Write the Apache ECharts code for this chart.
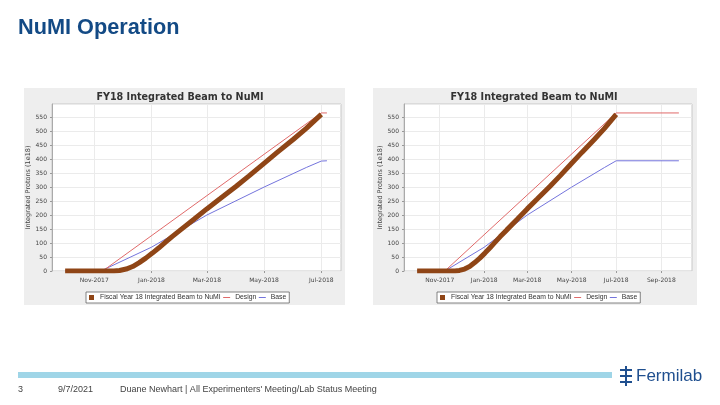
<!DOCTYPE html>
<html><head><meta charset="utf-8">
<script src="https://cdn.jsdelivr.net/npm/echarts@6/dist/echarts.min.js"></script>
<style>html,body{margin:0;padding:0;background:#fff}#c{width:720px;height:405px}</style>
</head><body><div id="c"></div><script>
const slideTitle = 'NuMI Operation';
const chartTitle = 'FY18 Integrated Beam to NuMI';
const yAxisName = 'Integrated Protons (1e18)';
const seriesNames = ['Fiscal Year 18 Integrated Beam to NuMI', 'Design', 'Base'];
const footerPage = '3';
const footerDate = '9/7/2021';
const footerText = "Duane Newhart | All Experimenters' Meeting/Lab Status Meeting";
const logoText = 'Fermilab';

const leftTicks = ['2017-11-01', '2018-01-01', '2018-03-01', '2018-05-01', '2018-07-01'];
const rightTicks = ['2017-11-01', '2018-01-01', '2018-03-01', '2018-05-01', '2018-07-01', '2018-09-01'];
const leftRange = ['2017-09-17', '2018-07-22'];
const rightRange = ['2017-09-13', '2018-10-13'];

const leftBeam = [
  ['2017-10-01', 0], ['2017-11-22', 0], ['2017-11-28', 2], ['2017-12-05', 7], ['2017-12-12', 16],
  ['2017-12-19', 30], ['2017-12-26', 46], ['2018-01-02', 64], ['2018-01-09', 83], ['2018-01-16', 103],
  ['2018-01-23', 123], ['2018-02-01', 147], ['2018-02-15', 184], ['2018-03-01', 222], ['2018-03-15', 258],
  ['2018-04-01', 302], ['2018-04-15', 340], ['2018-05-01', 385], ['2018-05-15', 424], ['2018-06-01', 470],
  ['2018-06-15', 510], ['2018-07-01', 560]
];
const leftDesign = [['2017-10-01', 0], ['2017-11-10', 0], ['2018-07-01', 565], ['2018-07-07', 565]];
const leftBase = [
  ['2017-10-01', 0], ['2017-11-08', 0], ['2018-01-01', 85], ['2018-03-01', 200], ['2018-05-01', 300],
  ['2018-06-15', 370], ['2018-07-01', 393], ['2018-07-07', 394]
];

const rightBeam = [
  ['2017-10-01', 0], ['2017-11-22', 0], ['2017-11-28', 2], ['2017-12-05', 7], ['2017-12-12', 16],
  ['2017-12-19', 30], ['2017-12-26', 46], ['2018-01-02', 64], ['2018-01-09', 83], ['2018-01-16', 103],
  ['2018-01-23', 123], ['2018-02-01', 147], ['2018-02-15', 184], ['2018-03-01', 222], ['2018-03-15', 258],
  ['2018-04-01', 302], ['2018-04-15', 340], ['2018-05-01', 385], ['2018-05-15', 424], ['2018-06-01', 470],
  ['2018-06-15', 510], ['2018-07-01', 560]
];
const rightDesign = [['2017-10-01', 0], ['2017-11-08', 0], ['2018-07-01', 565], ['2018-09-25', 565]];
const rightBase = [
  ['2017-10-01', 0], ['2017-11-08', 0], ['2018-01-01', 85], ['2018-03-01', 200], ['2018-05-01', 300],
  ['2018-06-15', 370], ['2018-07-01', 394], ['2018-09-25', 394]
];

const MONTHS = ['Jan','Feb','Mar','Apr','May','Jun','Jul','Aug','Sep','Oct','Nov','Dec'];
function t(s) { const p = s.split('-'); return Date.UTC(+p[0], +p[1] - 1, +p[2]); }
function fmt(v) { const d = new Date(v); return MONTHS[d.getUTCMonth()] + '-' + d.getUTCFullYear(); }
function pts(a) { return a.map(function (r) { return [t(r[0]), r[1]]; }); }

const C_BEAM = '#8f4516', C_DESIGN = '#e06a6a', C_BASE = '#7474dc';
const SMALL = 'DejaVu Sans';

function xAxis(gi, ticks, range) {
  const tv = ticks.map(t);
  return {
    type: 'value', gridIndex: gi, min: t(range[0]), max: t(range[1]),
    axisLine: { show: false },
    axisTick: { show: true, customValues: tv, length: 2, lineStyle: { color: '#999' } },
    axisLabel: { customValues: tv, formatter: fmt, fontSize: 6, fontFamily: SMALL, color: '#444', margin: 6, hideOverlap: false },
    splitLine: { show: true, lineStyle: { color: '#ebebeb', width: 1 } }
  };
}
function yAxis(gi) {
  return {
    type: 'value', gridIndex: gi, min: 0, max: 597, interval: 50,
    axisLine: { show: true, lineStyle: { color: '#aaa' } },
    axisTick: { show: true, length: 2, lineStyle: { color: '#999' } },
    axisLabel: { showMaxLabel: false, fontSize: 6, fontFamily: SMALL, color: '#444', margin: 5 },
    splitLine: { show: true, lineStyle: { color: '#ebebeb', width: 1 } },
    name: yAxisName, nameLocation: 'middle', nameGap: 20,
    nameTextStyle: { fontSize: 6.5, fontFamily: SMALL, color: '#444' }
  };
}
function lineSeries(name, data, gi, color, width, z) {
  return {
    type: 'line', name: name, xAxisIndex: gi, yAxisIndex: gi, data: pts(data),
    showSymbol: false, symbol: 'none', color: color, z: z,
    lineStyle: { color: color, width: width }, animation: false
  };
}
function legend(left) {
  return {
    left: left, top: 292, orient: 'horizontal', itemGap: 2, itemWidth: 7, itemHeight: 5,
    padding: [2, 3], borderColor: '#666', borderWidth: 0.8, backgroundColor: '#fff',
    selectedMode: false, symbolKeepAspect: true,
    textStyle: { fontSize: 6.8, fontFamily: 'Liberation Sans', color: '#333' },
    data: [
      { name: seriesNames[0], icon: 'path://M0,0H1V1H0Z', itemStyle: { color: C_BEAM } },
      { name: seriesNames[1], itemStyle: { opacity: 0 }, lineStyle: { color: C_DESIGN, width: 1 } },
      { name: seriesNames[2], itemStyle: { opacity: 0 }, lineStyle: { color: C_BASE, width: 1 } }
    ]
  };
}

const chart = echarts.init(document.getElementById('c'), null, { renderer: 'canvas' });
chart.setOption({
  animation: false,
  backgroundColor: '#ffffff',
  graphic: [
    { type: 'rect', z: -10, shape: { x: 24, y: 88, width: 321, height: 217 }, style: { fill: '#eeeeee' } },
    { type: 'rect', z: -10, shape: { x: 373, y: 88, width: 324, height: 217 }, style: { fill: '#eeeeee' } },
    { type: 'text', x: 180, y: 97, style: { text: chartTitle, font: 'bold 9.6px DejaVu Sans', fill: '#333', align: 'center', verticalAlign: 'middle' } },
    { type: 'text', x: 534, y: 97, style: { text: chartTitle, font: 'bold 9.6px DejaVu Sans', fill: '#333', align: 'center', verticalAlign: 'middle' } },
    { type: 'text', x: 18, y: 28, style: { text: slideTitle, font: 'bold 21.7px Liberation Sans', fill: '#134a85', verticalAlign: 'middle' } },
    { type: 'rect', shape: { x: 18, y: 372, width: 594, height: 6 }, style: { fill: '#9fd5e7' } },
    { type: 'text', x: 18, y: 390, style: { text: footerPage, font: '9px Liberation Sans', fill: '#444', verticalAlign: 'middle' } },
    { type: 'text', x: 58, y: 390, style: { text: footerDate, font: '9px Liberation Sans', fill: '#444', verticalAlign: 'middle' } },
    { type: 'text', x: 120, y: 390, style: { text: footerText, font: '9px Liberation Sans', fill: '#444', verticalAlign: 'middle' } },
    { type: 'text', x: 636, y: 376, style: { text: logoText, font: '17px Liberation Sans', fill: '#1f4f8f', verticalAlign: 'middle' } },
    { type: 'rect', shape: { x: 620, y: 369, width: 12, height: 2 }, style: { fill: '#1f4f8f' } },
    { type: 'rect', shape: { x: 620, y: 375, width: 12, height: 2 }, style: { fill: '#1f4f8f' } },
    { type: 'rect', shape: { x: 620, y: 381, width: 12, height: 2 }, style: { fill: '#1f4f8f' } },
    { type: 'rect', shape: { x: 625, y: 366, width: 2, height: 20 }, style: { fill: '#1f4f8f' } }
  ],
  grid: [
    { left: 52, right: 379, top: 104, bottom: 134, show: true, backgroundColor: '#fff', borderColor: '#c8c8c8', borderWidth: 1 },
    { left: 404, right: 28, top: 104, bottom: 134, show: true, backgroundColor: '#fff', borderColor: '#c8c8c8', borderWidth: 1 }
  ],
  xAxis: [xAxis(0, leftTicks, leftRange), xAxis(1, rightTicks, rightRange)],
  yAxis: [yAxis(0), yAxis(1)],
  legend: [legend(86), legend(437)],
  series: [
    lineSeries(seriesNames[2], leftBase, 0, C_BASE, 1, 2),
    lineSeries(seriesNames[1], leftDesign, 0, C_DESIGN, 1, 3),
    lineSeries(seriesNames[0], leftBeam, 0, C_BEAM, 5, 4),
    lineSeries(seriesNames[2], rightBase, 1, C_BASE, 1, 2),
    lineSeries(seriesNames[1], rightDesign, 1, C_DESIGN, 1, 3),
    lineSeries(seriesNames[0], rightBeam, 1, C_BEAM, 5, 4)
  ]
});
</script></body></html>
